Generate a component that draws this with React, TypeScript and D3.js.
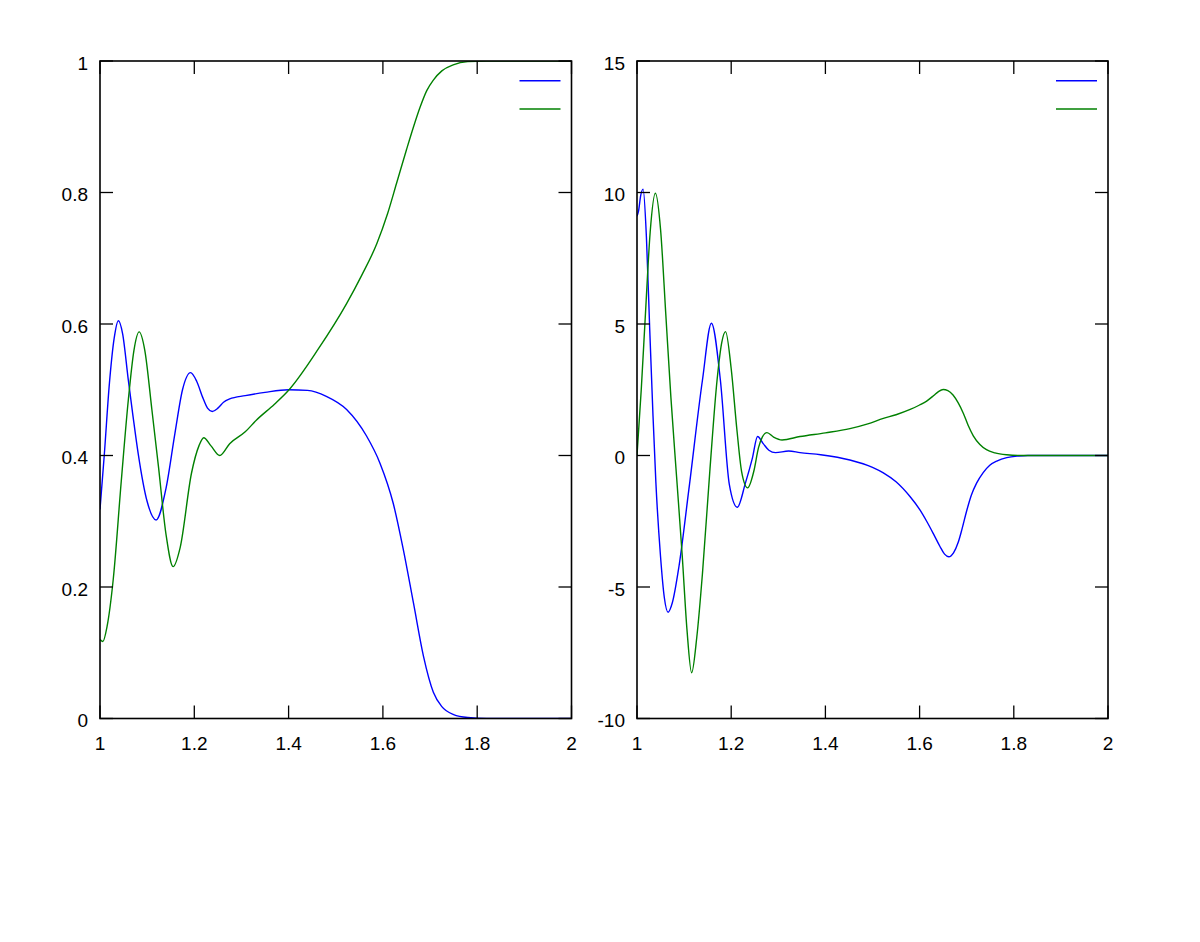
import React from "react";
import * as d3 from "d3";

// ---------- data ----------
const xTicks = [1, 1.2, 1.4, 1.6, 1.8, 2];
const xTickLabels = ["1", "1.2", "1.4", "1.6", "1.8", "2"];
const leftYTicks = [0, 0.2, 0.4, 0.6, 0.8, 1];
const leftYTickLabels = ["0", "0.2", "0.4", "0.6", "0.8", "1"];
const rightYTicks = [-10, -5, 0, 5, 10, 15];
const rightYTickLabels = ["-10", "-5", "0", "5", "10", "15"];

const leftBlueX = [1.0, 1.009, 1.02, 1.03, 1.039, 1.048, 1.06, 1.07, 1.081, 1.1, 1.119, 1.14, 1.159, 1.175, 1.192, 1.205, 1.218, 1.228, 1.238, 1.25, 1.262, 1.275, 1.308, 1.35, 1.4, 1.44, 1.48, 1.523, 1.565, 1.594, 1.622, 1.643, 1.665, 1.686, 1.707, 1.725, 1.75, 1.78, 1.82, 1.9, 2.0];
const leftBlueY = [0.318, 0.4, 0.51, 0.578, 0.605, 0.585, 0.515, 0.46, 0.403, 0.33, 0.302, 0.35, 0.434, 0.5, 0.526, 0.513, 0.488, 0.472, 0.467, 0.472, 0.481, 0.486, 0.491, 0.496, 0.5, 0.499, 0.49, 0.47, 0.43, 0.388, 0.327, 0.258, 0.175, 0.095, 0.04, 0.018, 0.006, 0.0015, 0, 0, 0];

const leftGreenX = [1.0, 1.006, 1.015, 1.028, 1.045, 1.06, 1.072, 1.083, 1.095, 1.11, 1.124, 1.14, 1.155, 1.17, 1.194, 1.21, 1.22, 1.235, 1.254, 1.275, 1.308, 1.332, 1.37, 1.401, 1.463, 1.523, 1.555, 1.587, 1.61, 1.629, 1.65, 1.665, 1.679, 1.693, 1.707, 1.725, 1.749, 1.78, 1.82, 1.9, 2.0];
const leftGreenY = [0.12, 0.117, 0.14, 0.211, 0.36, 0.484, 0.56, 0.588, 0.56, 0.47, 0.383, 0.28, 0.231, 0.26, 0.373, 0.415, 0.427, 0.415, 0.4, 0.418, 0.436, 0.454, 0.478, 0.5, 0.562, 0.631, 0.674, 0.722, 0.768, 0.814, 0.865, 0.9, 0.93, 0.955, 0.971, 0.985, 0.994, 0.999, 1.0, 1.0, 1.0];

const rightBlueX = [1.0, 1.003, 1.008, 1.013, 1.02, 1.027, 1.034, 1.04, 1.05, 1.058, 1.066, 1.075, 1.089, 1.11, 1.139, 1.158, 1.177, 1.196, 1.213, 1.23, 1.245, 1.256, 1.268, 1.28, 1.294, 1.322, 1.346, 1.39, 1.452, 1.5, 1.523, 1.55, 1.58, 1.6, 1.615, 1.63, 1.643, 1.653, 1.662, 1.672, 1.682, 1.69, 1.7, 1.71, 1.721, 1.735, 1.749, 1.765, 1.785, 1.81, 1.83, 2.0];
const rightBlueY = [9.1, 9.27, 9.9, 10.13, 8.3, 4.8, 1.5, -1.0, -3.85, -5.4, -5.96, -5.6, -4.23, -1.31, 2.87, 5.03, 2.87, -1.1, -1.97, -1.06, -0.1, 0.72, 0.45, 0.2, 0.11, 0.17, 0.11, 0.03, -0.17, -0.45, -0.66, -1.0, -1.57, -2.05, -2.5, -3.0, -3.45, -3.75, -3.85, -3.7, -3.3, -2.8, -2.1, -1.5, -1.05, -0.65, -0.37, -0.2, -0.08, -0.02, 0, 0];

const rightGreenX = [1.0, 1.009, 1.018, 1.028, 1.039, 1.05, 1.061, 1.072, 1.084, 1.096, 1.106, 1.116, 1.127, 1.139, 1.155, 1.17, 1.18, 1.188, 1.2, 1.212, 1.222, 1.235, 1.248, 1.258, 1.266, 1.276, 1.29, 1.308, 1.346, 1.4, 1.452, 1.49, 1.523, 1.55, 1.58, 1.6, 1.615, 1.63, 1.64, 1.65, 1.66, 1.671, 1.682, 1.693, 1.703, 1.714, 1.728, 1.742, 1.76, 1.785, 1.82, 2.0];
const rightGreenY = [0.0, 2.5, 5.41, 8.5, 9.97, 8.6, 5.41, 2.2, -0.8, -3.8, -6.6, -8.26, -6.9, -4.48, -0.5, 2.87, 4.3, 4.71, 3.3, 1.0, -0.6, -1.23, -0.6, 0.3, 0.7, 0.87, 0.7, 0.59, 0.72, 0.86, 1.02, 1.2, 1.41, 1.55, 1.75, 1.92, 2.07, 2.28, 2.43, 2.51, 2.47, 2.3, 2.0, 1.6, 1.15, 0.75, 0.42, 0.22, 0.1, 0.03, 0, 0];

const BLUE = "#0000ff";
const GREEN = "#008000";

type PanelProps = {
  left: number;
  right: number;
  yDomain: [number, number];
  yTicks: number[];
  yTickLabels: string[];
  series: { xs: number[]; ys: number[]; color: string }[];
};

const TOP = 61;
const BOTTOM = 718.5;
const TICK = 13;
const FONT = "Liberation Sans, Arial, Helvetica, sans-serif";
const FS = 19;

function Panel({ left, right, yDomain, yTicks, yTickLabels, series }: PanelProps) {
  const x = d3.scaleLinear().domain([1, 2]).range([left, right]);
  const y = d3.scaleLinear().domain(yDomain).range([BOTTOM, TOP]);
  const line = d3
    .line<[number, number]>()
    .x((d) => x(d[0]))
    .y((d) => y(d[1]))
    .curve(d3.curveMonotoneX);

  return (
    <g>
      <defs>
        <clipPath id={`clip-${left}`}>
          <rect x={left} y={TOP} width={right - left} height={BOTTOM - TOP} />
        </clipPath>
      </defs>
      <g clipPath={`url(#clip-${left})`}>
        {series.map((s, i) => (
          <path
            key={i}
            d={line(s.xs.map((v, j) => [v, s.ys[j]] as [number, number])) || ""}
            fill="none"
            stroke={s.color}
            strokeWidth={1.4}
          />
        ))}
      </g>
      {/* frame */}
      <rect x={left} y={TOP} width={right - left} height={BOTTOM - TOP} fill="none" stroke="#000" strokeWidth={1.6} />
      {/* x ticks */}
      {xTicks.map((t, i) => (
        <g key={"x" + i}>
          <line x1={x(t)} x2={x(t)} y1={BOTTOM} y2={BOTTOM - TICK} stroke="#000" strokeWidth={1.3} />
          <line x1={x(t)} x2={x(t)} y1={TOP} y2={TOP + TICK} stroke="#000" strokeWidth={1.3} />
          <text x={x(t)} y={BOTTOM + 31} textAnchor="middle" fontFamily={FONT} fontSize={FS} fill="#000">
            {xTickLabels[i]}
          </text>
        </g>
      ))}
      {/* y ticks */}
      {yTicks.map((t, i) => (
        <g key={"y" + i}>
          <line x1={left} x2={left + TICK} y1={y(t)} y2={y(t)} stroke="#000" strokeWidth={1.3} />
          <line x1={right} x2={right - TICK} y1={y(t)} y2={y(t)} stroke="#000" strokeWidth={1.3} />
          <text x={left - 12} y={y(t) + 8.5} textAnchor="end" fontFamily={FONT} fontSize={FS} fill="#000">
            {yTickLabels[i]}
          </text>
        </g>
      ))}
      {/* legend */}
      <line x1={right - 52} x2={right - 11} y1={80.7} y2={80.7} stroke={BLUE} strokeWidth={1.4} />
      <line x1={right - 52} x2={right - 11} y1={109} y2={109} stroke={GREEN} strokeWidth={1.4} />
    </g>
  );
}

export default function App() {
  return (
    <svg
      width={1200}
      height={942}
      style={{ position: "absolute", left: 0, top: 0, background: "#fff" }}
    >
      <rect x={0} y={0} width={1200} height={942} fill="#fff" />
      <Panel
        left={100}
        right={571.5}
        yDomain={[0, 1]}
        yTicks={leftYTicks}
        yTickLabels={leftYTickLabels}
        series={[
          { xs: leftBlueX, ys: leftBlueY, color: BLUE },
          { xs: leftGreenX, ys: leftGreenY, color: GREEN },
        ]}
      />
      <Panel
        left={637}
        right={1108}
        yDomain={[-10, 15]}
        yTicks={rightYTicks}
        yTickLabels={rightYTickLabels}
        series={[
          { xs: rightBlueX, ys: rightBlueY, color: BLUE },
          { xs: rightGreenX, ys: rightGreenY, color: GREEN },
        ]}
      />
    </svg>
  );
}
